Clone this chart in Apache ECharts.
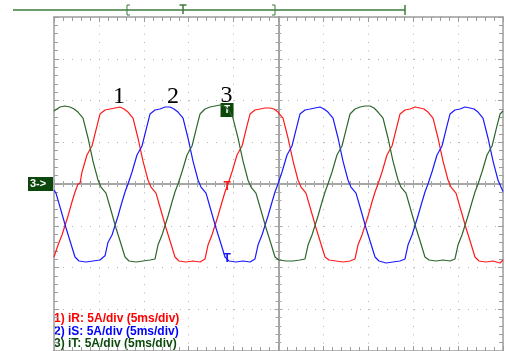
<!DOCTYPE html>
<html><head><meta charset="utf-8">
<script src="https://cdn.jsdelivr.net/npm/echarts@6/dist/echarts.min.js"></script>
<style>html,body{margin:0;padding:0;background:#fff}#c{width:505px;height:351px}</style>
</head><body><div id="c"></div>
<script>
// time in ms (5 ms/div, 10 div), current in A (5 A/div, 8 div)
const iR = [[0.00,-8.74],[0.45,-7.31],[0.89,-6.11],[1.56,-3.83],[2.00,-2.16],[2.34,-0.96],[2.67,0],[2.90,0.10],[3.12,1.44],[3.67,3.47],[4.23,4.55],[4.79,6.95],[5.12,8.38],[5.68,8.86],[6.24,8.98],[6.79,9.10],[7.35,9.22],[7.80,8.98],[8.24,8.62],[8.80,7.90],[9.35,5.51],[9.91,2.75],[10.47,0.48],[10.80,-0.36],[11.36,-1.10],[11.80,-2.75],[12.47,-5.27],[13.03,-7.19],[13.47,-8.74],[13.92,-9.22],[14.70,-9.34],[15.48,-9.22],[16.26,-9.34],[16.82,-8.98],[17.15,-7.31],[17.59,-6.11],[18.26,-3.83],[18.71,-2.16],[19.04,-0.96],[19.38,0],[19.60,0.10],[19.82,1.44],[20.38,3.47],[20.94,4.55],[21.49,6.95],[21.83,8.38],[22.38,8.86],[22.94,8.98],[23.50,9.10],[24.05,9.10],[24.50,8.98],[24.94,8.62],[25.50,7.90],[26.06,5.51],[26.62,2.75],[27.17,0.48],[27.51,-0.36],[28.06,-1.10],[28.51,-2.75],[29.18,-5.27],[29.73,-7.19],[30.18,-8.74],[30.62,-9.10],[31.40,-9.22],[32.18,-9.34],[32.96,-9.22],[33.52,-8.98],[33.85,-7.31],[34.30,-6.11],[34.97,-3.83],[35.41,-2.16],[35.75,-0.96],[36.08,0],[36.30,0.10],[36.53,1.44],[37.08,3.47],[37.64,4.55],[38.20,6.95],[38.53,8.38],[39.09,8.86],[39.64,8.98],[40.20,9.22],[40.76,9.10],[41.20,8.98],[41.65,8.62],[42.21,7.90],[42.76,5.51],[43.32,2.75],[43.88,0.48],[44.21,-0.36],[44.77,-1.10],[45.21,-2.75],[45.88,-5.27],[46.44,-7.19],[46.88,-8.74],[47.33,-9.22],[48.11,-9.34],[48.89,-9.22],[49.67,-9.46],[50.00,-9.10]];
const iS = [[0.00,-0.72],[0.22,-1.10],[0.67,-2.75],[1.34,-5.27],[1.89,-7.19],[2.34,-8.74],[2.78,-9.22],[3.56,-9.34],[4.34,-9.22],[5.12,-9.10],[5.68,-8.60],[6.01,-7.00],[6.46,-6.11],[7.13,-3.83],[7.57,-2.16],[7.91,-0.96],[8.24,0],[8.46,0.10],[8.69,1.44],[9.24,3.47],[9.80,4.55],[10.36,6.95],[10.69,8.38],[11.25,8.86],[11.80,8.98],[12.36,9.22],[12.92,9.22],[13.36,8.98],[13.81,8.62],[14.37,7.90],[14.92,5.51],[15.48,2.75],[16.04,0.48],[16.37,-0.36],[16.93,-1.10],[17.37,-2.75],[18.04,-5.27],[18.60,-7.19],[19.04,-8.74],[19.49,-9.22],[20.27,-9.34],[21.05,-9.22],[21.83,-9.34],[22.38,-8.98],[22.72,-7.31],[23.16,-6.11],[23.83,-3.83],[24.28,-2.16],[24.61,-0.96],[24.94,0],[25.16,0.10],[25.39,1.44],[25.95,3.47],[26.50,4.55],[27.06,6.95],[27.39,8.38],[27.95,8.86],[28.51,8.98],[29.06,9.10],[29.62,9.22],[30.07,8.98],[30.51,8.62],[31.07,7.90],[31.63,5.51],[32.18,2.75],[32.74,0.48],[33.07,-0.36],[33.63,-1.10],[34.08,-2.75],[34.74,-5.27],[35.30,-7.19],[35.75,-8.74],[36.19,-9.22],[36.97,-9.46],[37.75,-9.34],[38.53,-9.22],[39.09,-8.98],[39.42,-7.31],[39.87,-6.11],[40.53,-3.83],[40.98,-2.16],[41.31,-0.96],[41.65,0],[41.87,0.10],[42.09,1.44],[42.65,3.47],[43.21,4.55],[43.76,6.95],[44.10,8.38],[44.65,8.86],[45.21,8.98],[45.77,9.22],[46.33,9.10],[46.77,8.98],[47.22,8.62],[47.77,7.90],[48.33,5.51],[48.89,2.75],[49.44,0.48],[49.78,-0.36],[50.00,-0.90]];
const iT = [[0.00,8.74],[0.11,8.86],[0.67,9.22],[1.22,9.34],[1.78,9.22],[2.23,8.98],[2.67,8.62],[3.23,7.90],[3.79,5.51],[4.34,2.75],[4.90,0.48],[5.23,-0.36],[5.79,-1.10],[6.24,-2.75],[6.90,-5.27],[7.46,-7.19],[7.91,-8.74],[8.35,-9.22],[9.13,-9.34],[9.91,-9.22],[10.69,-9.10],[11.25,-8.98],[11.58,-7.31],[12.03,-6.11],[12.70,-3.83],[13.14,-2.16],[13.47,-0.96],[13.81,0],[14.03,0.10],[14.25,1.44],[14.81,3.47],[15.37,4.55],[15.92,6.95],[16.26,8.38],[16.82,8.98],[17.37,9.22],[17.93,9.34],[18.49,9.46],[18.93,9.34],[19.38,8.98],[19.93,7.90],[20.49,5.51],[21.05,2.75],[21.60,0.48],[21.94,-0.36],[22.49,-1.10],[22.94,-2.75],[23.61,-5.27],[24.17,-7.19],[24.61,-8.74],[25.06,-9.10],[25.84,-9.22],[26.62,-9.22],[27.39,-9.10],[27.95,-8.98],[28.29,-7.31],[28.73,-6.11],[29.40,-3.83],[29.84,-2.16],[30.18,-0.96],[30.51,0],[30.73,0.10],[30.96,1.44],[31.51,3.47],[32.07,4.55],[32.63,6.95],[32.96,8.38],[33.52,8.98],[34.08,9.22],[34.63,9.34],[35.19,9.34],[35.64,9.10],[36.08,8.62],[36.64,7.90],[37.19,5.51],[37.75,2.75],[38.31,0.48],[38.64,-0.36],[39.20,-1.10],[39.64,-2.75],[40.31,-5.27],[40.87,-7.19],[41.31,-8.74],[41.76,-9.10],[42.54,-9.22],[43.32,-9.10],[44.10,-9.22],[44.65,-8.98],[44.99,-7.31],[45.43,-6.11],[46.10,-3.83],[46.55,-2.16],[46.88,-0.96],[47.22,0],[47.44,0.10],[47.66,1.44],[48.22,3.47],[48.78,4.55],[49.33,6.95],[49.67,8.38],[50.00,8.74]];

const seriesNames = ['iR','iS','iT'];
const seriesColors = ['#ff1a1a','#1a1aff','#2d672d'];
const channelLabels = ['1) iR: 5A/div (5ms/div)','2) iS: 5A/div (5ms/div)','3) iT: 5A/div (5ms/div)'];
const traceNumbers = ['1','2','3'];
const traceNumberPos = [[7.25,10.4],[13.25,10.4],[19.2,10.6]];
const triggerTime = 19.27;
const triggerLevels = [-0.3,-8.98,8.86];

const X_MIN = 0, X_MAX = 50, X_INT = 5;
const Y_MIN = -20, Y_MAX = 20, Y_INT = 5;
const borderC = '#9c9c9c', centerC = '#a6a6a6', dotC = '#b4b4b4';

function xAx(pos, opts){
  return Object.assign({type:'value', min:X_MIN, max:X_MAX, interval:X_INT, position:pos,
    axisLabel:{show:false}, splitLine:{show:false},
    axisLine:{show:true, onZero:false, lineStyle:{color:borderC, width:1.5}},
    axisTick:{show:true, inside:true, length:5, lineStyle:{color:borderC, width:1}},
    minorTick:{show:true, splitNumber:5, length:4, lineStyle:{color:borderC, width:1}}}, opts);
}
function yAx(pos, opts){
  return Object.assign({type:'value', min:Y_MIN, max:Y_MAX, interval:Y_INT, position:pos,
    axisLabel:{show:false}, splitLine:{show:false},
    axisLine:{show:true, onZero:false, lineStyle:{color:borderC, width:1.5}},
    axisTick:{show:true, inside:true, length:5, lineStyle:{color:borderC, width:1}},
    minorTick:{show:true, splitNumber:5, length:4, lineStyle:{color:borderC, width:1}}}, opts);
}
const centerLine = {show:true, lineStyle:{color:centerC, width:2}};
const centerTick = {show:true, inside:false, length:4, lineStyle:{color:centerC, width:1}};
const centerMinor = {show:true, splitNumber:5, length:3, lineStyle:{color:centerC, width:1}};

const xAxes = [
  xAx('bottom', {splitLine:{show:true, lineStyle:{color:dotC, width:1, type:[1,7.35]}}}),
  xAx('top', {}),
  xAx('bottom', {axisLine:Object.assign({onZero:true}, centerLine), axisTick:centerTick, minorTick:centerMinor}),
  xAx('top', {axisLine:Object.assign({onZero:true}, centerLine), axisTick:centerTick, minorTick:centerMinor})
];
const yAxes = [
  yAx('left', {splitLine:{show:true, lineStyle:{color:dotC, width:1, type:[1,8]}}}),
  yAx('right', {}),
  yAx('left', {offset:-224.5, axisLine:Object.assign({onZero:false}, centerLine), axisTick:centerTick, minorTick:centerMinor}),
  yAx('right', {offset:-224.5, axisLine:Object.assign({onZero:false}, centerLine), axisTick:centerTick, minorTick:centerMinor})
];

const hidden = {color:'rgba(0,0,0,0)', borderWidth:0};
const dataSets = [iR, iS, iT];
const series = dataSets.map((d, i) => {
  const s = {
    name: seriesNames[i], type:'line', data:d, showSymbol:false, symbol:'none',
    xAxisIndex:0, yAxisIndex:0, clip:true, z:3+i,
    lineStyle:{color:seriesColors[i], width:1.2}, itemStyle:{color:seriesColors[i]},
    animation:false, silent:true
  };
  const mp = [];
  mp.push({coord:traceNumberPos[i], symbol:'rect', symbolSize:[14,18], itemStyle:hidden,
    label:{show:true, position:'inside', formatter:traceNumbers[i],
    color:'#000', fontFamily:'Liberation Serif', fontSize:24}});
  if (i === 2) {
    mp.push({coord:[triggerTime, triggerLevels[i]], symbol:'rect', symbolSize:[13,14], itemStyle:{color:'#0c470c'},
      label:{show:true, position:'inside', formatter:'T', color:'#fff', fontFamily:'Liberation Sans', fontWeight:'bold', fontSize:10}});
  } else {
    mp.push({coord:[triggerTime, triggerLevels[i]], symbol:'rect', symbolSize:[8,10], itemStyle:hidden,
      label:{show:true, position:'inside', formatter:'T', color:seriesColors[i], fontFamily:'Liberation Sans', fontWeight:'bold', fontSize:12}});
  }
  s.markPoint = {silent:true, animation:false, data:mp};
  return s;
});

const green = '#3b7a3b';
const graphic = [
  {type:'line', shape:{x1:13, y1:10, x2:405, y2:10}, style:{stroke:green, lineWidth:1.5}},
  {type:'polyline', shape:{points:[[130,5],[127,5],[127,15],[130,15]]}, style:{stroke:green, lineWidth:1, fill:null}},
  {type:'line', shape:{x1:179.5, y1:5, x2:186.5, y2:5}, style:{stroke:green, lineWidth:1.5}},
  {type:'line', shape:{x1:183, y1:5, x2:183, y2:14}, style:{stroke:green, lineWidth:1.5}},
  {type:'polyline', shape:{points:[[272,5],[275,5],[275,15],[272,15]]}, style:{stroke:green, lineWidth:1, fill:null}},
  {type:'line', shape:{x1:405, y1:5, x2:405, y2:15}, style:{stroke:green, lineWidth:1.5}},
  {type:'rect', shape:{x:28, y:177, width:25, height:14}, style:{fill:'#0c470c'}},
  {type:'text', left:30, top:178, style:{text:'3->', fill:'#fff', font:'bold 11px "Liberation Sans"'}}
];
channelLabels.forEach((t, i) => {
  graphic.push({type:'text', left:54, top:313 + i*12.5, style:{text:t, fill:['#ff0000','#0000ff','#0b4a0b'][i], font:'bold 12px "Liberation Sans"'}});
});

const chart = echarts.init(document.getElementById('c'), null, {renderer:'canvas'});
chart.setOption({
  animation:false,
  backgroundColor:'#ffffff',
  grid:{left:54, right:2, top:17, bottom:0, containLabel:false},
  xAxis:xAxes, yAxis:yAxes, series:series, graphic:graphic
});
</script></body></html>
